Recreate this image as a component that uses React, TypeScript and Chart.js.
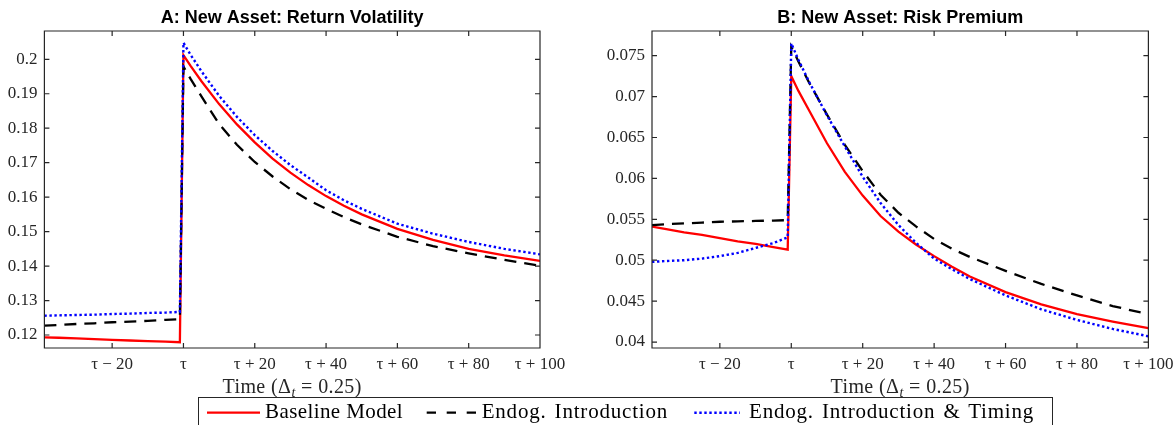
import React, { useEffect, useRef } from "react";
import { Chart, registerables } from "chart.js";

Chart.register(...registerables);

// ---------- data ----------
const timeSteps = [-39, -35, -30, -25, -20, -15, -10, -5, -1, 0, 2, 5, 10, 15, 20, 25, 30, 35, 40, 45, 50, 60, 70, 80, 90, 100];

// Panel A: return volatility
const volBaseline = [0.1193, 0.1192, 0.119, 0.1188, 0.1186, 0.1184, 0.1182, 0.1181, 0.1179,
  0.2012, 0.1981, 0.1937, 0.187, 0.1811, 0.1759, 0.1712, 0.1671, 0.1635, 0.1603, 0.1575, 0.155, 0.1508, 0.1476, 0.145, 0.1431, 0.1415];
const volEndog = [0.1227, 0.1229, 0.1232, 0.1234, 0.1237, 0.1239, 0.1241, 0.1244, 0.1246,
  0.1979, 0.1943, 0.1893, 0.1812, 0.1752, 0.1702, 0.166, 0.1623, 0.1592, 0.1566, 0.1542, 0.1521, 0.1485, 0.1458, 0.1437, 0.1418, 0.1401];
const volEndogTiming = [0.1256, 0.1257, 0.1258, 0.1259, 0.1261, 0.1262, 0.1264, 0.1265, 0.1267,
  0.2048, 0.2013, 0.1966, 0.1894, 0.1833, 0.178, 0.1734, 0.1693, 0.1657, 0.162, 0.1591, 0.1566, 0.1523, 0.1494, 0.147, 0.145, 0.1434];

// Panel B: risk premium
const premBaseline = [0.0541, 0.0538, 0.0534, 0.0531, 0.0527, 0.0523, 0.052, 0.0516, 0.0513,
  0.0725, 0.0707, 0.0683, 0.0643, 0.0608, 0.0579, 0.0554, 0.0535, 0.0519, 0.0505, 0.0492, 0.048, 0.0461, 0.0446, 0.0434, 0.0425, 0.0417];
const premEndog = [0.0543, 0.0544, 0.0545, 0.0546, 0.0547, 0.05475, 0.0548, 0.05485, 0.0549,
  0.0761, 0.0743, 0.0717, 0.0678, 0.0641, 0.0609, 0.058, 0.0558, 0.0541, 0.0526, 0.0514, 0.0504, 0.0487, 0.0471, 0.0457, 0.0444, 0.0434];
const premEndogTiming = [0.0498, 0.0499, 0.05, 0.0502, 0.0505, 0.0509, 0.0515, 0.0521, 0.0528,
  0.0765, 0.0745, 0.0718, 0.0677, 0.0639, 0.0602, 0.057, 0.0543, 0.0521, 0.0502, 0.0489, 0.0477, 0.0457, 0.044, 0.0427, 0.0416, 0.0407];

const xTickValues = [-20, 0, 20, 40, 60, 80, 100];
const xTickLabels = ["τ − 20", "τ", "τ + 20", "τ + 40", "τ + 60", "τ + 80", "τ + 100"];
const volTickValues = [0.12, 0.13, 0.14, 0.15, 0.16, 0.17, 0.18, 0.19, 0.2];
const volTickLabels = ["0.12", "0.13", "0.14", "0.15", "0.16", "0.17", "0.18", "0.19", "0.2"];
const premTickValues = [0.04, 0.045, 0.05, 0.055, 0.06, 0.065, 0.07, 0.075];
const premTickLabels = ["0.04", "0.045", "0.05", "0.055", "0.06", "0.065", "0.07", "0.075"];

const seriesNames = ["Baseline Model", "Endog. Introduction", "Endog. Introduction & Timing"];
const panelTitles = ["A: New Asset: Return Volatility", "B: New Asset: Risk Premium"];
const xAxisTitle = "Time";

const SERIF = "'Liberation Serif', 'Times New Roman', serif";
const SANS = "'Liberation Sans', Arial, sans-serif";
const AXIS_COLOR = "#262626";

const framePlugin = {
  id: "matlabFrame",
  afterDatasetsDraw(chart: any) {
    const { ctx, chartArea: a, scales } = chart;
    const xs = scales.x;
    const ys = scales.y;
    ctx.save();
    ctx.strokeStyle = AXIS_COLOR;
    ctx.lineWidth = 1.2;
    ctx.beginPath();
    ctx.rect(a.left, a.top, a.right - a.left, a.bottom - a.top);
    const tl = 5;
    xTickValues.forEach((v) => {
      const px = xs.getPixelForValue(v);
      ctx.moveTo(px, a.bottom);
      ctx.lineTo(px, a.bottom - tl);
      ctx.moveTo(px, a.top);
      ctx.lineTo(px, a.top + tl);
    });
    (ys.ticks || []).forEach((t: any) => {
      const py = ys.getPixelForValue(t.value);
      ctx.moveTo(a.left, py);
      ctx.lineTo(a.left + tl, py);
      ctx.moveTo(a.right, py);
      ctx.lineTo(a.right - tl, py);
    });
    ctx.stroke();
    ctx.restore();
  },
};

function buildChart(
  canvas: HTMLCanvasElement,
  title: string,
  values: number[][],
  yMin: number,
  yMax: number,
  yTicks: number[],
  yLabels: string[],
  yWidth: number,
  padRight: number
) {
  const colors = ["#ff0000", "#000000", "#0000ff"];
  const dashes = [[], [12, 8], [2.4, 2.6]];
  const widths = [2.3, 2.3, 2.4];
  const orders = [3, 2, 1];
  return new Chart(canvas, {
    type: "line",
    data: {
      datasets: values.map((vals, i) => ({
        label: seriesNames[i],
        data: timeSteps.map((t, j) => ({ x: t, y: vals[j] })),
        borderColor: colors[i],
        backgroundColor: colors[i],
        borderWidth: widths[i],
        borderDash: dashes[i],
        borderCapStyle: "butt",
        pointRadius: 0,
        tension: 0,
        fill: false,
        order: orders[i],
      })),
    },
    options: {
      responsive: false,
      animation: false,
      devicePixelRatio: 1,
      layout: { padding: { left: 0, right: padRight, top: 0, bottom: 0 } },
      plugins: {
        legend: { display: false },
        tooltip: { enabled: false },
        title: {
          display: true,
          text: title,
          fullSize: false,
          color: "#000",
          font: { family: SANS, weight: "bold", size: 18, lineHeight: 1.2 },
          padding: { top: 7.5, bottom: 1.9 },
        },
      },
      scales: {
        x: {
          type: "linear",
          min: -39,
          max: 100,
          grid: { display: false, drawTicks: false },
          border: { display: false },
          afterBuildTicks: (s: any) => {
            s.ticks = xTickValues.map((v) => ({ value: v }));
          },
          afterFit: (s: any) => {
            s.height = 47;
            s.paddingLeft = 0;
            s.paddingRight = 0;
          },
          ticks: {
            autoSkip: false,
            maxRotation: 0,
            minRotation: 0,
            padding: 6,
            color: AXIS_COLOR,
            font: { family: SERIF, size: 17, lineHeight: 1.2 },
            callback: (v: any) => {
              const idx = xTickValues.indexOf(Number(v));
              return idx >= 0 ? xTickLabels[idx] : "";
            },
          },
        },
        y: {
          type: "linear",
          min: yMin,
          max: yMax,
          grid: { display: false, drawTicks: false },
          border: { display: false },
          afterBuildTicks: (s: any) => {
            s.ticks = yTicks.map((v) => ({ value: v }));
          },
          afterFit: (s: any) => {
            s.width = yWidth;
            s.paddingTop = 0;
            s.paddingBottom = 0;
          },
          ticks: {
            autoSkip: false,
            padding: 7,
            color: AXIS_COLOR,
            font: { family: SERIF, size: 17, lineHeight: 1.2 },
            callback: (v: any) => {
              const idx = yTicks.findIndex((t) => Math.abs(t - Number(v)) < 1e-9);
              return idx >= 0 ? yLabels[idx] : "";
            },
          },
        },
      },
    },
    plugins: [framePlugin],
  } as any);
}

function XTitle({ cx }: { cx: number }) {
  return (
    <div
      style={{
        position: "absolute",
        left: cx - 120,
        top: 376,
        width: 240,
        textAlign: "center",
        fontFamily: SERIF,
        fontSize: 20,
        lineHeight: "20px",
        letterSpacing: "0.4px",
        whiteSpace: "nowrap",
        color: "#262626",
      }}
    >
      {xAxisTitle} (Δ
      <span style={{ fontSize: 14, fontStyle: "italic", lineHeight: 0, verticalAlign: "-4px" }}>t</span> = 0.25)
    </div>
  );
}

export default function App() {
  const refA = useRef<HTMLCanvasElement | null>(null);
  const refB = useRef<HTMLCanvasElement | null>(null);

  useEffect(() => {
    const a = buildChart(
      refA.current!,
      panelTitles[0],
      [volBaseline, volEndog, volEndogTiming],
      0.11623,
      0.20821,
      volTickValues,
      volTickLabels,
      44.4,
      50
    );
    const b = buildChart(
      refB.current!,
      panelTitles[1],
      [premBaseline, premEndog, premEndogTiming],
      0.03927,
      0.07802,
      premTickValues,
      premTickLabels,
      62,
      26.6
    );
    return () => {
      a.destroy();
      b.destroy();
    };
  }, []);

  const legendText: React.CSSProperties = {
    position: "absolute",
    top: 400.7,
    fontFamily: SERIF,
    fontSize: 21,
    lineHeight: "21px",
    letterSpacing: "0.4px",
    whiteSpace: "nowrap",
    color: "#000",
  };
  const legendWide: React.CSSProperties = { ...legendText, letterSpacing: "0.8px", wordSpacing: "2px" };

  return (
    <div
      style={{
        position: "absolute",
        left: 0,
        top: 0,
        width: 1175,
        height: 425,
        overflow: "hidden",
        background: "#fff",
      }}
    >
      <canvas
        ref={refA}
        width={590}
        height={395}
        style={{ position: "absolute", left: 0, top: 0, width: 590, height: 395 }}
      />
      <canvas
        ref={refB}
        width={585}
        height={395}
        style={{ position: "absolute", left: 590, top: 0, width: 585, height: 395 }}
      />
      <XTitle cx={292.2} />
      <XTitle cx={900.2} />
      <div
        style={{
          position: "absolute",
          left: 198.3,
          top: 397,
          width: 855,
          height: 40,
          border: "1px solid #262626",
          boxSizing: "border-box",
          background: "#fff",
        }}
      />
      <svg
        width={1175}
        height={425}
        style={{ position: "absolute", left: 0, top: 0, pointerEvents: "none" }}
      >
        <line x1={207} y1={412.7} x2={260} y2={412.7} stroke="#ff0000" strokeWidth={2.3} />
        <line x1={426.7} y1={412.7} x2={476.7} y2={412.7} stroke="#000000" strokeWidth={2.3} strokeDasharray="9.3 10.7" />
        <line x1={694.3} y1={412.7} x2={740} y2={412.7} stroke="#0000ff" strokeWidth={2.4} strokeDasharray="2.4 2.6" />
      </svg>
      <div style={{ ...legendText, left: 265 }}>{seriesNames[0]}</div>
      <div style={{ ...legendWide, left: 481.7 }}>{seriesNames[1]}</div>
      <div style={{ ...legendWide, left: 749 }}>{seriesNames[2]}</div>
    </div>
  );
}
